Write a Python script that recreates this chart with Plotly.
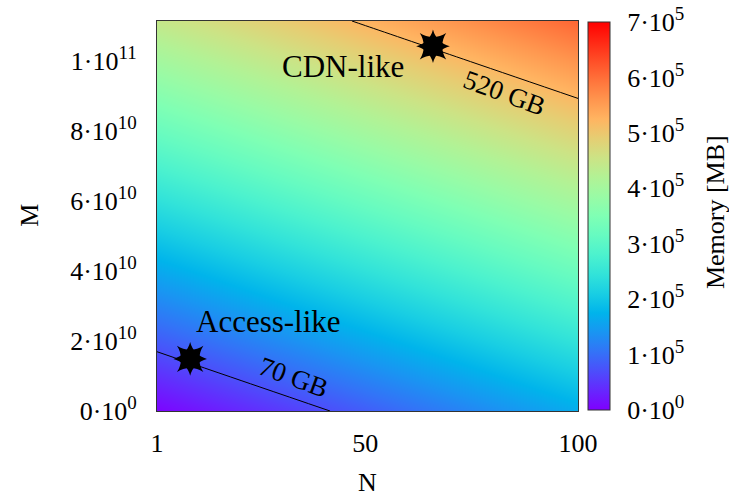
import math
import plotly.graph_objects as go

# ---- data ----
N_vals = [1, 25, 50, 75, 100]
M_vals = [0, 2.5e10, 5e10, 7.5e10, 1e11, 1.115e11]
memory_mb = [
    [2900, 42500, 83700, 124900, 166100],
    [101900, 141500, 182700, 223900, 265100],
    [200900, 240500, 281700, 322900, 364100],
    [299900, 339500, 380700, 421900, 463100],
    [398900, 438500, 479700, 520900, 562100],
    [444400, 484000, 525200, 566400, 607600],
]
contour_levels_mb = [70000, 520000]
contour_labels = ["70 GB", "520 GB"]
scenario_names = ["Access-like", "CDN-like"]
scenario_N = [8.8, 65.9]
scenario_M = [1.49e10, 1.043e11]

SUP = "<sup><span style='font-size:19px'>{}</span></sup>"
y_ticks = [0, 2e10, 4e10, 6e10, 8e10, 1e11]
y_ticktext = ["0·10" + SUP.format(0)] + [f"{k}·10" + SUP.format(10) for k in (2, 4, 6, 8)] \
    + ["1·10" + SUP.format(11)]
x_ticks = [1, 50, 100]
cb_ticks = [0, 1e5, 2e5, 3e5, 4e5, 5e5, 6e5, 7e5]
cb_ticktext = ["0·10" + SUP.format(0)] + [f"{k}·10" + SUP.format(5) for k in range(1, 8)]

# rainbow palette (purple -> red)
def rainbow(t):
    r = min(1, abs(2 * t - 0.5))
    g = math.sin(math.pi * t)
    b = math.cos(math.pi * t / 2)
    return f"rgb({int(r*255)},{int(max(g,0)*255)},{int(max(b,0)*255)})"

colorscale = [[i / 20, rainbow(i / 20)] for i in range(21)]

FONT = "Liberation Serif, Times New Roman, serif"
TS = 26

fig = go.Figure()
fig.add_trace(go.Heatmap(
    x=N_vals, y=M_vals, z=memory_mb, zsmooth="best",
    colorscale=colorscale, zmin=0, zmax=700000,
    colorbar=dict(
        x=1.024, xanchor="left", xpad=0, y=0.5, yanchor="middle", ypad=0,
        len=0.995, lenmode="fraction", thickness=22,
        outlinecolor="#333", outlinewidth=1,
        tickvals=cb_ticks, ticktext=cb_ticktext,
        ticks="outside", ticklen=12, tickcolor="rgba(0,0,0,0)",
        tickfont=dict(family=FONT, size=TS, color="black"),
    ),
    hoverinfo="skip",
))
fig.add_trace(go.Contour(
    x=N_vals, y=M_vals, z=memory_mb,
    contours=dict(start=contour_levels_mb[0], end=contour_levels_mb[1],
                  size=contour_levels_mb[1] - contour_levels_mb[0],
                  coloring="none"),
    line=dict(color="black", width=1), showscale=False, hoverinfo="skip",
))
for sym in ["star-square", "star-diamond"]:
    fig.add_trace(go.Scatter(
        x=scenario_N, y=scenario_M, mode="markers",
        marker=dict(symbol=sym, size=24, color="black", line=dict(width=0)),
        showlegend=False, hoverinfo="skip",
    ))

# scenario names and contour labels
fig.add_annotation(x=27.2, y=2.57e10, text=scenario_names[0], showarrow=False,
                   font=dict(family=FONT, size=31, color="black"))
fig.add_annotation(x=44.7, y=9.86e10, text=scenario_names[1], showarrow=False,
                   font=dict(family=FONT, size=31, color="black"))
fig.add_annotation(x=33.0, y=0.97e10, text=contour_labels[0], showarrow=False,
                   textangle=20, font=dict(family=FONT, size=27, color="black"))
fig.add_annotation(x=82.8, y=9.09e10, text=contour_labels[1], showarrow=False,
                   textangle=20, font=dict(family=FONT, size=27, color="black"))
# axis and colour bar titles
fig.add_annotation(xref="paper", yref="paper", x=1.3254, y=0.51,
                   xanchor="center", yanchor="middle", text="Memory [MB]",
                   textangle=-90, showarrow=False,
                   font=dict(family=FONT, size=TS, color="black"))
fig.add_annotation(xref="paper", yref="paper", x=0.499, y=-0.1846,
                   xanchor="center", yanchor="middle", text="N", showarrow=False,
                   font=dict(family=FONT, size=TS, color="black"))
fig.add_annotation(xref="paper", yref="paper", x=-0.3017, y=0.503,
                   xanchor="center", yanchor="middle", text="M", textangle=-90,
                   showarrow=False, font=dict(family=FONT, size=TS, color="black"))

fig.update_layout(
    width=729, height=497,
    margin=dict(l=157, r=151, t=21, b=86, autoexpand=False),
    paper_bgcolor="white", plot_bgcolor="white",
    showlegend=False,
    font=dict(family=FONT, size=TS, color="black"),
    xaxis=dict(range=[1, 100], tickvals=x_ticks, ticks="outside", ticklen=9,
               tickcolor="rgba(0,0,0,0)", showgrid=False, zeroline=False,
               showline=True, linecolor="#333", linewidth=1, mirror=True,
               automargin=False, tickfont=dict(family=FONT, size=TS)),
    yaxis=dict(range=[0, 1.115e11], tickvals=y_ticks, ticktext=y_ticktext,
               ticks="outside", ticklen=14, tickcolor="rgba(0,0,0,0)",
               showgrid=False, zeroline=False,
               showline=True, linecolor="#333", linewidth=1, mirror=True,
               automargin=False, tickfont=dict(family=FONT, size=TS)),
)

fig.write_html("out.html")
